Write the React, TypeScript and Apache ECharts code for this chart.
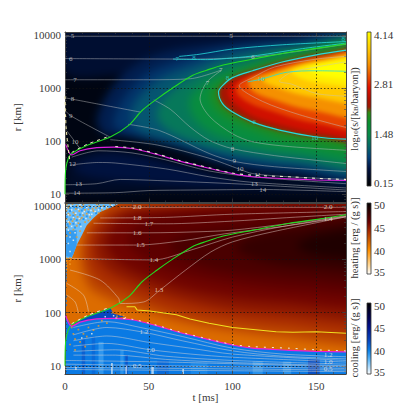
import React, { useEffect, useRef } from "react";
import * as echarts from "echarts";

type P = number[][];
type Stops = [number, string][];
const FONT = "Liberation Serif";

const xTicks = [0, 50, 100, 150];
const decades = [10, 100, 1000, 10000];
const T_MAX = 167.7;
const R_MIN = 7;
const R_MAX = 11500;

// Colour scales
const entropyStops: Stops = [[0.15, "#000000"], [0.6, "#00123f"], [0.9, "#03407a"], [1.2, "#066a66"], [1.48, "#078a4a"], [1.8, "#0a9030"], [2.05, "#2f8a14"], [2.2, "#9a1a04"], [2.4, "#b01000"], [2.7, "#e01000"], [3.0, "#e85000"], [3.3, "#f59000"], [3.7, "#ffc800"], [4.14, "#ffff00"]];
const heatingStops: Stops = [[35, "#ffffff"], [37, "#ffd590"], [40, "#ff9000"], [42, "#d06000"], [44, "#a82c00"], [46, "#6a0000"], [48, "#340000"], [50, "#000000"]];
const coolingStops: Stops = [[35, "#ffffff"], [38, "#60b8f8"], [40, "#0a80e8"], [42, "#0848c0"], [45, "#00108a"], [47, "#000050"], [50, "#000000"]];

const wholePanel: P = [[-5, 0.5], [-5, 4.5], [175, 4.5], [175, 0.5]];

// Entropy field: nested level curves [t ms, log10 r]
const sTop: P = [[0, 3.3], [0, 4.5], [175, 4.5], [175, 3.9], [100, 3.5], [30, 3.25]];
const sUnderA: P = [[0, 1.15], [3, 1.7], [20, 1.85], [40, 1.82], [70, 1.58], [100, 1.35], [168, 1.22], [168, 1.0], [60, 1.03], [0, 1.0]];
const sUnderB: P = [[5, 1.5], [20, 1.76], [40, 1.74], [70, 1.52], [100, 1.3], [125, 1.22], [90, 1.14], [40, 1.24], [12, 1.35]];
const s1: P = [[168, 4.0], [130, 3.95], [90, 3.85], [60, 3.7], [42, 3.45], [30, 3.1], [22, 2.7], [19, 2.35], [24, 2.12], [33, 2.1], [50, 2.0], [70, 1.83], [90, 1.6], [110, 1.45], [135, 1.38], [168, 1.3]];
const s2: P = [[168, 3.92], [130, 3.88], [95, 3.75], [70, 3.55], [50, 3.3], [38, 2.95], [31, 2.6], [29, 2.3], [36, 2.15], [50, 2.03], [70, 1.88], [90, 1.68], [110, 1.55], [135, 1.47], [168, 1.38]];
const s3: P = [[168, 3.88], [135, 3.82], [100, 3.68], [78, 3.45], [58, 3.2], [46, 2.9], [40, 2.6], [40, 2.35], [47, 2.15], [70, 1.95], [90, 1.77], [110, 1.64], [135, 1.55], [168, 1.47]];
const s4: P = [[168, 3.86], [135, 3.75], [105, 3.55], [85, 3.35], [68, 3.05], [58, 2.75], [55, 2.45], [65, 2.15], [85, 1.92], [105, 1.78], [135, 1.66], [168, 1.56]];
const s5: P = [[168, 3.82], [135, 3.68], [112, 3.47], [95, 3.3], [80, 3.02], [74, 2.75], [78, 2.4], [90, 2.12], [110, 1.95], [135, 1.8], [168, 1.7]];
const s6: P = [[168, 3.78], [125, 3.52], [102, 3.28], [90, 3.05], [87, 2.88], [90, 2.62], [100, 2.4], [115, 2.2], [135, 2.02], [168, 1.92]];
const outerBands: P[] = [wholePanel, sTop, sUnderA, sUnderB, s1, s2, s3, s4, s5, s6];
const outerLevels = [0.28, 0.5, 0.42, 0.6, 0.68, 0.82, 1.05, 1.32, 1.62, 1.95];

const cyanOval: P = [[168, 3.72], [150, 3.63], [129, 3.49], [112, 3.33], [100, 3.2], [94, 3.05], [91.6, 2.93], [94, 2.71], [100, 2.55], [112, 2.36], [128, 2.21], [150, 2.08], [168, 2.04]];
const s8: P = [[168, 3.71], [150, 3.61], [129, 3.46], [112, 3.28], [101, 3.12], [97, 2.93], [101, 2.72], [112, 2.48], [128, 2.32], [150, 2.17], [168, 2.12]];
const s9: P = [[168, 3.69], [150, 3.58], [125, 3.38], [106, 3.15], [102, 2.95], [110, 2.72], [125, 2.55], [145, 2.37], [168, 2.25]];
const s10: P = [[168, 3.66], [150, 3.55], [125, 3.33], [110, 3.15], [112, 2.95], [125, 2.78], [145, 2.6], [168, 2.45]];
const s11: P = [[168, 3.63], [150, 3.5], [128, 3.3], [118, 3.15], [128, 3.0], [145, 2.85], [168, 2.72]];
const s12: P = [[168, 3.58], [150, 3.48], [135, 3.33], [140, 3.2], [155, 3.08], [168, 3.0]];
const s13: P = [[168, 3.55], [152, 3.45], [145, 3.36], [155, 3.22], [168, 3.15]];
const hotBands: P[] = [cyanOval, s8, s9, s10, s11, s12, s13];
const hotLevels = [2.3, 2.6, 2.95, 3.3, 3.7, 3.98, 4.14];

// Heating field
const h2: P = [[168, 4.5], [33, 4.5], [21, 3.9], [13, 3.64], [9, 3.2], [10, 2.8], [15, 2.45], [30, 2.2], [45, 2.05], [60, 1.9], [80, 1.75], [100, 1.65], [125, 1.55], [168, 1.5]];
const h3: P = [[168, 4.0], [38, 4.0], [24, 3.85], [16, 3.6], [13, 3.25], [14, 2.9], [20, 2.6], [35, 2.4], [50, 2.2], [70, 2.0], [100, 1.85], [130, 1.75], [168, 1.7]];
const h4: P = [[168, 3.97], [40, 3.97], [28, 3.8], [21, 3.55], [18, 3.25], [20, 3.0], [28, 2.75], [42, 2.55], [60, 2.33], [80, 2.17], [100, 2.05], [130, 1.97], [168, 1.93]];
const h5: P = [[168, 3.93], [50, 3.93], [33, 3.75], [27, 3.5], [25, 3.25], [30, 3.0], [40, 2.8], [55, 2.6], [75, 2.42], [100, 2.28], [130, 2.2], [168, 2.16]];
const h6: P = [[168, 3.85], [70, 3.85], [45, 3.7], [38, 3.45], [38, 3.25], [48, 3.0], [60, 2.82], [80, 2.65], [105, 2.52], [135, 2.42], [168, 2.4]];
const h7: P = [[168, 3.78], [110, 3.65], [75, 3.5], [62, 3.3], [68, 3.05], [85, 2.85], [110, 2.72], [140, 2.63], [168, 2.6]];
const h8: P = [[168, 3.7], [135, 3.55], [110, 3.4], [102, 3.2], [115, 3.0], [135, 2.88], [168, 2.82]];
const h9: P = [[168, 3.6], [150, 3.45], [138, 3.25], [150, 3.08], [168, 3.02]];
const heatBands: P[] = [wholePanel, h2, h3, h4, h5, h6, h7, h8, h9];
const heatLevels = [41.5, 43, 44, 45, 45.8, 46.5, 47.2, 48, 48.8];

// Cooling patches in the lower panel
const coolBelowShock: P = [[0, 0.5], [0, 1.9], [0.4, 1.94], [4, 1.74], [9, 1.82], [19, 1.88], [29, 1.89], [41, 1.86], [55, 1.75], [68, 1.63], [86, 1.49], [100, 1.39], [112, 1.33], [134, 1.29], [150, 1.27], [168, 1.26], [168, 0.5]];
const coolSpeckleZone: P = [[0, 3.02], [0, 4.5], [33, 4.5], [33, 4.06], [29, 4.0], [21, 3.89], [17, 3.78], [13, 3.64], [10, 3.45], [7, 3.27], [5, 3.1], [4, 3.02]];
const coolEdgeStrip: P = [[0, 3.06], [0, 3.55], [7, 3.55], [7, 3.27], [5, 3.1], [4, 3.04]];
const coolWedge: P = [[4, 1.76], [13, 1.93], [27, 2.09], [29, 1.98], [36, 1.92], [30, 1.9], [19, 1.88], [9, 1.82]];
const coolBands: P[] = [coolBelowShock, coolSpeckleZone, coolEdgeStrip, coolWedge];
const coolBandLevels = [40.2, 37.8, 39, 42];
// vertical streaks at small radii: t0, t1, log r0, log r1, level
const coolStreaks = [
  [10, 12, 0.8, 1.5, 41.5], [16, 18, 0.8, 1.55, 41], [20, 23, 0.8, 1.45, 38.8], [33, 35, 0.8, 1.3, 39], [36, 37.5, 0.8, 1.2, 42],
  [27.5, 28.5, 0.8, 1.05, 35.5], [51.5, 53, 0.8, 0.98, 35.5], [70, 71, 0.8, 0.94, 35.5], [36, 37, 0.8, 1.0, 36], [6, 7, 0.92, 1.0, 36],
  [112, 118, 0.8, 1.08, 39], [145, 152, 0.8, 1.12, 42.5], [130, 135, 0.8, 1.08, 39], [75, 85, 0.8, 1.05, 39.5], [55, 62, 0.8, 1.1, 41],
];

const orangeSpeck: P = [[1, 4.03], [4.5, 4.04], [7, 4.01], [11, 4.03], [14.5, 4.01], [19, 4.04], [23, 4.01], [27, 4.03], [30, 4.05], [2, 3.97], [6.5, 3.95], [10, 3.98], [14, 3.94], [18.5, 3.97], [22, 3.93], [25, 3.96], [0.8, 3.92], [5, 3.88], [8.5, 3.91], [13, 3.86], [17, 3.91], [20, 3.87], [3, 3.83], [7.5, 3.8], [11, 3.83], [15, 3.79], [1, 3.76], [4.5, 3.72], [9, 3.75], [12, 3.7], [3, 3.67], [7, 3.63], [1, 3.6], [5, 3.56], [9, 3.53], [3, 3.5], [7, 3.42], [1, 3.44], [1, 3.02], [3, 3.03], [1, 2.98], [3, 2.98], [1, 2.94], [1, 2.88], [3, 2.91], [1, 2.82], [5, 1.6], [8, 1.68], [11, 1.6], [14, 1.72], [17, 1.67], [6, 1.5], [9, 1.45], [13, 1.55], [20, 1.75], [25, 1.8], [31, 1.93], [28, 2.0], [33, 1.96], [3, 1.4], [4, 1.72], [12, 1.36], [6, 1.3], [22, 1.85], [35, 1.94], [2.5, 4.0], [9, 4.0], [16.5, 3.95], [12, 3.93], [20.5, 4.0], [6, 3.84], [10, 3.78], [14, 3.73], [2, 3.86], [5.5, 3.76], [8, 3.68], [2.5, 3.7]];
const whiteSpeck: P = [[3.5, 4.01], [9, 4.03], [13, 3.98], [17, 4.0], [25, 3.99], [4, 3.93], [8, 3.94], [11.5, 3.9], [15.5, 3.92], [20, 3.93], [2, 3.84], [6.5, 3.87], [10.5, 3.87], [14.5, 3.84], [5, 3.79], [8.5, 3.77], [12.5, 3.77], [2, 3.71], [6.5, 3.69], [4, 3.62], [9.5, 3.62], [2, 3.55], [6, 3.5], [3, 3.42], [5, 3.36], [2, 3.3], [3, 3.15], [36, 1.9], [24, 1.92], [29, 1.94], [10, 1.52], [16, 1.6], [22, 3.97], [18, 3.9], [28, 4.01], [0.8, 3.98], [16, 3.85]];
const blueSpeck: P = [[5.5, 3.98], [11, 3.96], [15, 3.97], [21, 3.96], [27, 3.99], [3, 3.91], [10, 3.92], [14, 3.89], [18.5, 3.87], [5, 3.82], [9, 3.84], [13, 3.81], [3.5, 3.75], [7, 3.74], [11, 3.76], [5, 3.67], [9, 3.66], [2, 3.62], [6, 3.6], [1, 3.8], [3, 3.97], [7, 3.97], [24, 4.0], [12, 3.99], [1.5, 3.66]];
const blueColumn: P = [[0.6, 2.9], [0.6, 2.84], [0.6, 2.78], [0.6, 2.72], [0.6, 2.66], [0.6, 2.6], [0.6, 2.3], [0.6, 2.22], [0.6, 2.14]];

// Curves shared by both panels
const greenLine: P = [[0, 1.0], [0.4, 1.46], [2, 1.68], [4, 1.77], [13, 1.92], [27, 2.08], [38, 2.3], [46, 2.58], [55, 2.8], [64, 3.0], [76, 3.24], [84.5, 3.34], [94.4, 3.44], [112.3, 3.55], [134, 3.68], [154, 3.77], [167.7, 3.84]];
const magentaLine: P = [[0.4, 1.94], [4, 1.74], [9, 1.82], [19, 1.88], [29, 1.89], [41, 1.86], [55, 1.75], [68, 1.63], [86, 1.49], [100, 1.39], [112, 1.33], [134, 1.29], [150, 1.27], [167.7, 1.26]];
const magentaDashes: P = [[30, 1.9], [41, 1.87], [55, 1.76], [68, 1.64], [86, 1.5], [100, 1.4], [112, 1.36], [134, 1.33], [150, 1.3], [167.7, 1.28]];
const edgeDashes: P = [[0, 2.85], [0.3, 2.5], [0.8, 2.2], [2, 1.85], [3, 1.6]];
const greenDashes: P = [[4, 1.79], [13, 1.94], [27, 2.1]];
const yellowLine: P = [[36.7, 2.11], [41.7, 2.11], [43, 2.05], [50.6, 2.03], [66.5, 1.96], [74.6, 1.88], [86, 1.8], [100, 1.72], [126, 1.64], [136, 1.63], [150, 1.64], [167.7, 1.61]];

// Upper panel contours
const c5: P = [[0, 3.98], [167.7, 3.98]];
const c6: P = [[0, 3.56], [75, 3.55], [112, 3.59], [140, 3.7], [167.7, 3.83]];
const c7a: P = [[0, 3.16], [50, 3.16], [75, 3.18], [93, 3.34]];
const c7b: P = [[93.5, 3.34], [84.5, 3.11], [80.6, 2.8], [86.5, 2.46], [100, 2.14], [112, 1.99], [134, 1.9], [167.7, 1.83]];
const c8a: P = [[0, 2.82], [20, 2.7], [45, 2.55]];
const c8b: P = [[53, 2.78], [63, 2.6], [74.6, 2.27], [86, 2.02], [100, 1.86], [125, 1.73], [150, 1.64], [167.7, 1.58]];
const c9a: P = [[0, 2.58], [4, 2.47], [26.8, 2.08]];
const c9b: P = [[37.7, 2.32], [56.5, 2.2], [86, 1.77], [101, 1.62], [125, 1.52], [167.7, 1.43]];
const c10a: P = [[1, 2.2], [6, 1.99], [9, 1.86]];
const c10b: P = [[27, 2.03], [55, 1.93], [86, 1.68], [104.4, 1.47], [112, 1.39], [134, 1.33], [167.7, 1.28]];
const c11: P = [[4, 1.7], [20, 1.82], [40, 1.78], [60, 1.65], [86, 1.44], [115, 1.32], [167.7, 1.2]];
const c12: P = [[3, 1.55], [20, 1.6], [30, 1.59], [60, 1.48], [86, 1.33], [110, 1.23], [167.7, 1.12]];
const c13: P = [[0, 1.18], [19, 1.2], [33, 1.28], [55, 1.26], [86, 1.22], [113, 1.18], [167.7, 1.08]];
const c14: P = [[0, 1.02], [30, 1.03], [50, 1.07], [75, 1.08], [118, 1.09], [167.7, 1.05]];
const cInnerA: P = [[167.7, 3.6], [150, 3.55], [125, 3.4], [112, 3.2], [104, 3.05], [118, 2.75], [140, 2.5], [167.7, 2.26]];
const cInnerB: P = [[167.7, 3.5], [150, 3.4], [135, 3.3], [128, 3.13], [135, 3.08], [150, 2.9], [167.7, 2.85]];
const upperContours: P[] = [c5, c6, c7a, c7b, c8a, c8b, c9a, c9b, c10a, c10b, c11, c12, c13, c14, cInnerA, cInnerB];
const cyanA: P = [[64.5, 3.55], [85, 3.54], [100, 3.57], [115, 3.62], [140, 3.74], [167.7, 3.85]];
const cyanB: P = [[68, 3.6], [80, 3.64], [100, 3.74], [130, 3.82], [167.7, 3.88]];
const cyanC: P = [[109, 3.12], [117, 3.17], [132, 3.3], [150, 3.33], [167.7, 3.32]];
const upperCyan: P[] = [cyanA, cyanB, cyanC, cyanOval.map(([t, lr]) => [Math.min(t, 167.7), lr])];
const upperLabelPos: P = [[4.5, 3.98], [99, 3.98], [3.5, 3.55], [112, 3.59], [6, 3.16], [4.5, 2.8], [100, 1.86], [3.5, 2.47], [101, 1.62], [6, 1.99], [104.4, 1.47], [4.5, 1.57], [115, 1.37], [8, 1.2], [113, 1.2], [7, 1.02], [118, 1.09], [85, 3.1], [93, 3.34]];
const upperLabelText = ["5", "5", "6", "6", "7", "8", "8", "9", "9", "10", "10", "12", "11", "13", "13", "14", "14", "7", "7"];
const cyanLabelPos: P = [[67, 3.55], [77, 3.57], [97, 3.2], [117, 3.17], [113, 2.36], [149, 2.07], [166, 3.92]];
const cyanLabelText = ["7", "8", "8", "10", "6", "10", "8"];

// Lower panel contours
const l20: P = [[33, 3.98], [167.7, 3.98]];
const l18: P = [[21, 3.78], [60, 3.79], [100, 3.85], [167.7, 3.9]];
const l17: P = [[17, 3.68], [60, 3.67], [100, 3.72], [130, 3.78], [167.7, 3.85]];
const l16: P = [[13, 3.5], [50, 3.5], [80, 3.52], [100, 3.55], [130, 3.66], [167.7, 3.82]];
const l15: P = [[7, 3.27], [43, 3.27], [70, 3.35], [95, 3.48], [130, 3.62], [167.7, 3.8]];
const l14: P = [[4, 3.02], [30, 3.0], [53, 2.99], [74.6, 3.17], [100, 3.42], [130, 3.62], [167.7, 3.81]];
const l13: P = [[3, 2.8], [21, 2.61], [32, 2.27], [33, 2.17], [47, 2.2], [56.5, 2.42], [72, 2.8], [87, 3.14], [100, 3.33], [124, 3.52], [167.7, 3.8]];
const l12: P = [[1, 2.55], [11, 2.33], [14, 2.02]];
const l11: P = [[1, 2.33], [6, 2.2], [8, 1.99]];
const b1: P = [[5, 1.72], [25, 1.83], [45, 1.72], [70, 1.55], [100, 1.33], [130, 1.22], [167.7, 1.17]];
const b2: P = [[5, 1.58], [25, 1.72], [47, 1.63], [70, 1.47], [100, 1.28], [130, 1.18], [167.7, 1.13]];
const b3: P = [[5, 1.47], [25, 1.56], [50, 1.44], [75, 1.33], [100, 1.22], [167.7, 1.1]];
const b4: P = [[5, 1.37], [25, 1.42], [51, 1.3], [75, 1.22], [100, 1.16], [167.7, 1.07]];
const b5: P = [[5, 1.27], [30, 1.3], [60, 1.18], [100, 1.1], [167.7, 1.03]];
const b6: P = [[5, 1.2], [30, 1.2], [60, 1.12], [100, 1.06], [167.7, 1.0]];
const b7: P = [[0, 1.1], [60, 1.07], [167.7, 0.98]];
const b8: P = [[0, 1.03], [60, 1.0], [167.7, 0.95]];
const b9: P = [[0, 0.97], [167.7, 0.92]];
const b10: P = [[0, 0.93], [167.7, 0.89]];
const lowerContours: P[] = [l20, l18, l17, l16, l15, l14, l13, l12, l11, b1, b2, b3, b4, b5, b6, b7, b8, b9, b10];
const lowerLabelPos: P = [[43, 3.98], [43, 3.78], [50, 3.66], [43, 3.49], [45, 3.27], [53, 2.99], [56, 2.42], [47, 1.64], [51, 1.3], [43, 0.99], [157, 3.98], [157, 3.76], [157, 1.2], [157, 1.07], [157, 0.94]];
const lowerLabelText = ["2.0", "1.8", "1.7", "1.6", "1.5", "1.4", "1.3", "1.2", "1.0", "0.5", "2.0", "1.4", "1.2", "1.0", "0.5"];

const R = (p: P) => p.map(([t, lr]) => [t, Math.pow(10, lr)]);

function hexAt(stops: Stops, v: number): string {
  if (v <= stops[0][0]) return stops[0][1];
  for (let i = 1; i < stops.length; i++) {
    if (v <= stops[i][0]) {
      const f = (v - stops[i - 1][0]) / (stops[i][0] - stops[i - 1][0]);
      const a = parseInt(stops[i - 1][1].slice(1), 16);
      const b = parseInt(stops[i][1].slice(1), 16);
      const ch = (s: number) => Math.round(((a >> s) & 255) * (1 - f) + ((b >> s) & 255) * f);
      return `rgb(${ch(16)},${ch(8)},${ch(0)})`;
    }
  }
  return stops[stops.length - 1][1];
}

function bandSeries(g: number, bands: P[], levels: number[], stops: Stops, z: number, smooth: number, clip: boolean, pad: number) {
  return {
    type: "custom", xAxisIndex: g, yAxisIndex: g, clip, silent: true, z,
    data: bands.map((b, i) => [Math.max(0, b[0][0]), Math.pow(10, 2), i]),
    renderItem: (_: any, api: any) => {
      const i = api.value(2);
      const pts = bands[i].map(([t, lr]) => {
        const c = api.coord([t, Math.pow(10, lr)]);
        return [t >= 167 ? c[0] + pad : c[0], c[1]];
      });
      return { type: "polygon", shape: { points: pts, smooth }, style: { fill: hexAt(stops, levels[i]) } };
    },
  };
}

function lineSeries(g: number, pts: P, color: string, width: number, extra: any = {}) {
  return {
    type: "line", xAxisIndex: g, yAxisIndex: g, data: R(pts), showSymbol: false, silent: true, z: 7,
    smooth: 0.3, lineStyle: { color, width, ...extra.lineStyle }, ...(extra.opts || {}),
  };
}

function labelSeries(g: number, pos: P, text: string[], color: string) {
  return {
    type: "scatter", xAxisIndex: g, yAxisIndex: g, symbolSize: 0, silent: true, z: 9,
    data: R(pos).map((p, i) => ({ value: p, name: text[i] })),
    label: { show: true, position: "inside", formatter: (d: any) => d.name, color, fontFamily: FONT, fontSize: 7 },
  };
}

function speckSeries(g: number, pts: P, color: string, size: number) {
  return {
    type: "scatter", xAxisIndex: g, yAxisIndex: g, symbol: "rect", symbolSize: size, silent: true, z: 3,
    data: R(pts), itemStyle: { color },
  };
}

const frame = "#444444";
const axisFont = { fontFamily: FONT, fontSize: 11, color: "#3a3a3a" };

function xAxes(grid: number, labelled: boolean) {
  const base = {
    type: "value", gridIndex: grid, min: 0, max: T_MAX, interval: 50, z: 5,
    splitLine: { show: false },
    axisLine: { show: true, onZero: false, lineStyle: { color: frame, width: 1 } },
    axisTick: { show: true, inside: true, length: 4, lineStyle: { color: frame, width: 0.7 } },
    minorTick: { show: true, splitNumber: 5, length: 2, lineStyle: { color: frame, width: 0.6 } },
  };
  return [
    {
      ...base, position: "bottom",
      splitLine: { show: true, lineStyle: { color: "#111111", width: 0.7, type: [1.5, 2] } },
      axisLabel: { show: labelled, margin: 6, ...axisFont, customValues: xTicks },
      name: labelled ? "t [ms]" : "", nameLocation: "middle", nameGap: 17, nameTextStyle: axisFont,
    },
    { ...base, position: "top", axisLabel: { show: false } },
  ];
}

function yAxes(grid: number) {
  const base = {
    type: "log", logBase: 10, gridIndex: grid, min: R_MIN, max: R_MAX, z: 5,
    splitLine: { show: false },
    axisLine: { show: true, onZero: false, lineStyle: { color: frame, width: 1 } },
    axisTick: { show: true, inside: true, length: 4, lineStyle: { color: frame, width: 0.7 } },
    minorTick: { show: true, splitNumber: 9, length: 2, lineStyle: { color: frame, width: 0.6 } },
  };
  return [
    {
      ...base, position: "left",
      splitLine: { show: true, lineStyle: { color: "#111111", width: 0.7, type: [1.5, 2] } },
      axisLabel: { margin: 4, ...axisFont, formatter: (v: number) => (decades.includes(Math.round(v)) ? String(Math.round(v)) : "") },
      name: "r [km]", nameLocation: "middle", nameGap: 37, nameRotate: 90, nameTextStyle: axisFont,
    },
    { ...base, position: "right", axisLabel: { show: false } },
  ];
}

function colorBar(top: number, h: number, stops: Stops, labels: string[], labelYs: number[], title: any, titleY: number) {
  const lo = stops[0][0], hi = stops[stops.length - 1][0];
  const items: any[] = [
    {
      type: "rect", shape: { x: 367, y: top, width: 4, height: h },
      style: {
        stroke: "#333333", lineWidth: 0.8,
        fill: { type: "linear", x: 0, y: 1, x2: 0, y2: 0, colorStops: stops.map(([v, c]) => ({ offset: (v - lo) / (hi - lo), color: c })) },
      },
    },
  ];
  labels.forEach((t, i) => {
    items.push({ type: "text", x: 374, y: labelYs[i], style: { text: t, fill: "#333333", font: `11px ${FONT}`, verticalAlign: "middle" } });
  });
  items.push({
    type: "text", x: 354, y: titleY, rotation: Math.PI / 2,
    style: { ...title, fill: "#333333", font: `10.5px ${FONT}`, align: "center", verticalAlign: "middle" },
  });
  return items;
}

const sTitle = { text: "log{s|10}(s/[k{s|B}/baryon])", rich: { s: { fontSize: 7, fontFamily: FONT, verticalAlign: "bottom", fill: "#333333" } } };

const BLEED = 40;
function FieldLayer(props: { top: number; height: number; blur: number; bands: P[]; levels: number[]; stops: Stops; smooth: number }) {
  const ref = useRef<HTMLDivElement>(null);
  const { top, height, blur, bands, levels, stops, smooth } = props;
  useEffect(() => {
    const chart = echarts.init(ref.current!, undefined, { renderer: "svg" });
    chart.setOption({
      animation: false,
      grid: { left: BLEED, top: BLEED, width: 281, height },
      xAxis: { type: "value", min: 0, max: T_MAX, show: false },
      yAxis: { type: "log", logBase: 10, min: R_MIN, max: R_MAX, show: false },
      series: [bandSeries(0, bands, levels, stops, 1, smooth, false, BLEED)],
    });
    return () => chart.dispose();
  }, []);
  return (
    <div style={{ position: "absolute", left: 65, top, width: 281, height, overflow: "hidden" }}>
      <div ref={ref} style={{ position: "absolute", left: -BLEED, top: -BLEED, width: 281 + 2 * BLEED, height: height + 2 * BLEED, filter: `blur(${blur}px)` }} />
    </div>
  );
}

export default function App() {
  const ref = useRef<HTMLDivElement>(null);
  useEffect(() => {
    const chart = echarts.init(ref.current!, undefined, { renderer: "svg" });
    const [xa, xb] = xAxes(0, false);
    const [xc, xd] = xAxes(1, true);
    const [ya, yb] = yAxes(0);
    const [yc, yd] = yAxes(1);

    const streakSeries = {
      type: "custom", xAxisIndex: 1, yAxisIndex: 1, clip: true, silent: true, z: 2.5,
      data: coolStreaks.map((s, i) => [s[0], 10, i]),
      renderItem: (_: any, api: any) => {
        const s = coolStreaks[api.value(2)];
        const a = api.coord([s[0], Math.pow(10, s[2])]);
        const b = api.coord([s[1], Math.pow(10, s[3])]);
        return { type: "rect", shape: { x: a[0], y: b[1], width: b[0] - a[0], height: a[1] - b[1] }, style: { fill: hexAt(coolingStops, s[4]), opacity: 0.7 } };
      },
    };

    const series: any[] = [
      ...upperContours.map((c) => lineSeries(0, c, "#c4c4c4", 0.7, { lineStyle: { opacity: 0.65 } })),
      ...upperCyan.map((c, i) => lineSeries(0, c, "#25dcdc", i === 3 ? 1.2 : 0.8)),
      lineSeries(0, greenLine, "#22dd22", 1.1),
      lineSeries(0, magentaLine, "#e01fe0", 1.1),
      lineSeries(0, magentaDashes, "#e8e4d0", 1.1, { lineStyle: { type: [3, 5] } }),
      lineSeries(0, edgeDashes, "#e8e0a8", 1.1, { lineStyle: { type: [3, 3] } }),
      lineSeries(0, greenDashes, "#e8e4c0", 1, { lineStyle: { type: [3, 4] } }),
      labelSeries(0, upperLabelPos, upperLabelText, "#d4d4d4"),
      labelSeries(0, cyanLabelPos, cyanLabelText, "#25dcdc"),

      bandSeries(1, coolBands, coolBandLevels, coolingStops, 2, 0, true, 5),
      streakSeries,
      speckSeries(1, blueSpeck, "#1c8ef0", 2),
      speckSeries(1, orangeSpeck, "#f09a20", 1.7),
      speckSeries(1, whiteSpeck, "#f8f6ee", 1.5),
      speckSeries(1, blueColumn, "#1478e0", 2),
      ...lowerContours.map((c) => lineSeries(1, c, "#e8dcd4", 0.7, { lineStyle: { opacity: 0.65 } })),
      lineSeries(1, greenLine, "#22dd22", 1.1),
      lineSeries(1, yellowLine, "#f0e020", 1.1, { opts: { smooth: false } }),
      lineSeries(1, magentaLine, "#f01fd8", 1.2),
      lineSeries(1, magentaDashes, "#f0ece0", 1, { lineStyle: { type: [2, 6] } }),
      lineSeries(1, greenDashes, "#f0ece0", 1, { lineStyle: { type: [3, 4] } }),
      labelSeries(1, lowerLabelPos, lowerLabelText, "#f0e6de"),
    ];

    chart.setOption({
      animation: false,
      textStyle: { fontFamily: FONT },
      grid: [
        { left: 65, top: 32, width: 281, height: 170.5 },
        { left: 65, top: 203, width: 281, height: 171 },
      ],
      xAxis: [xa, xc, xb, xd],
      yAxis: [ya, yc, yb, yd],
      series,
      graphic: {
        elements: [
          ...colorBar(32, 154, entropyStops, ["4.14", "2.81", "1.48", "0.15"], [35, 84, 134, 183], sTitle, 109),
          ...colorBar(203, 71, heatingStops, ["50", "45", "40", "35"], [205, 228, 251, 272], { text: "heating [erg / (g s)]" }, 238),
          ...colorBar(303, 71, coolingStops, ["50", "45", "40", "35"], [306, 328, 351, 372], { text: "cooling [erg/ (g s)]" }, 338),
        ],
      },
    });
    return () => chart.dispose();
  }, []);
  return (
    <div style={{ position: "absolute", left: 0, top: 0, width: 407, height: 407, background: "#ffffff", overflow: "hidden" }}>
      <FieldLayer top={32} height={170.5} blur={4} bands={outerBands} levels={outerLevels} stops={entropyStops} smooth={0.35} />
      <FieldLayer top={32} height={170.5} blur={2} bands={hotBands} levels={hotLevels} stops={entropyStops} smooth={0.35} />
      <FieldLayer top={203} height={171} blur={5} bands={heatBands} levels={heatLevels} stops={heatingStops} smooth={0.25} />
      <div ref={ref} style={{ position: "absolute", left: 0, top: 0, width: 407, height: 407 }} />
    </div>
  );
}
